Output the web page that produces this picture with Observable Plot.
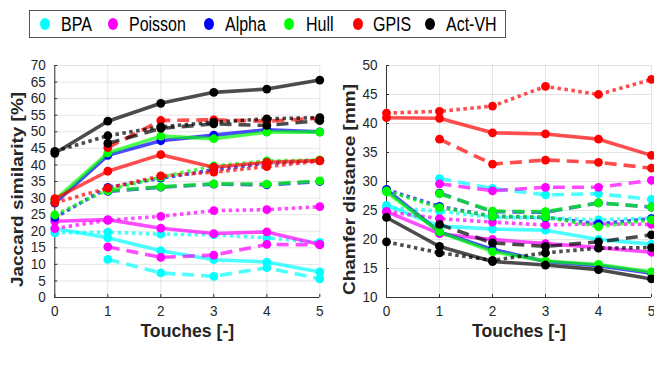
<!DOCTYPE html>
<html>
<head>
<meta charset="utf-8">
<script src="https://cdn.jsdelivr.net/npm/d3@7"></script>
<script src="https://cdn.jsdelivr.net/npm/@observablehq/plot@0.6"></script>
<style>
  html, body { margin: 0; padding: 0; background: #fff; }
  #wrap { position: relative; width: 654px; height: 367px; overflow: hidden;
          font-family: "Liberation Sans", Arial, sans-serif; color: #262626; }
  #legend { position: absolute; left: 29px; top: 10px; width: 477px; height: 28px;
            border: 1px solid #555; box-sizing: border-box; background: #fff; z-index: 2; }
  .mk { position: absolute; top: 7px; width: 10px; height: 12px; border-radius: 50%; }
  .lb { position: absolute; top: 0; font-size: 19.5px; color: #000; line-height: 26px;
        white-space: nowrap; transform: scaleX(0.82); transform-origin: 0 50%; }
  #left, #right { position: absolute; top: 0; }
  #left { left: 0; }
  #right { left: 327px; }
</style>
</head>
<body>
<div id="wrap">
  <div id="legend"></div>
  <div id="left"></div>
  <div id="right"></div>
</div>
<script>
const touches = [0, 1, 2, 3, 4, 5];
const methods = ["BPA", "Poisson", "Alpha", "Hull", "GPIS", "Act-VH"];
const methodColors = ["#00ffff", "#ff00ff", "#0000ff", "#00ff00", "#ff0000", "#000000"];
const jaccardTicks = [0, 5, 10, 15, 20, 25, 30, 35, 40, 45, 50, 55, 60, 65, 70];
const chamferTicks = [10, 15, 20, 25, 30, 35, 40, 45, 50];

// Jaccard similarity [%] — one row per method (BPA, Poisson, Alpha, Hull, GPIS, Act-VH)
const jaccardSolid = [
  [20.8, 18.0, 14.1, 11.4, 10.7, 7.7],
  [23.0, 23.5, 20.9, 19.3, 19.8, 16.0],
  [28.5, 42.9, 47.3, 49.0, 50.6, 50.0],
  [29.4, 43.6, 48.7, 47.9, 49.9, 49.9],
  [29.8, 38.1, 43.1, 39.3, 40.8, 41.3],
  [43.5, 53.2, 58.6, 61.9, 62.9, 65.6]
];
const jaccardDashed = [
  [null, 11.5, 7.4, 6.4, 9.0, 5.6],
  [null, 15.3, 12.1, 12.8, 16.0, 15.9],
  [null, 32.0, 33.3, 34.2, 34.0, 35.0],
  [null, 32.2, 33.4, 34.3, 34.2, 35.2],
  [null, 45.2, 53.4, 53.6, 53.2, 54.1],
  [null, 46.5, 51.0, 52.4, 51.9, 53.4]
];
const jaccardDotted = [
  [19.5, 19.7, 19.1, 18.9, 18.0, 16.6],
  [20.8, 23.3, 24.5, 26.2, 26.5, 27.4],
  [24.1, 33.2, 36.0, 38.5, 40.5, 41.3],
  [24.9, 32.5, 36.3, 39.7, 41.2, 41.5],
  [28.6, 33.0, 36.7, 37.8, 39.5, 41.2],
  [44.1, 48.8, 51.5, 52.9, 53.9, 54.3]
];

// Chamfer distance [mm]
const chamferSolid = [
  [25.9, 22.3, 21.8, 21.6, 20.0, 19.2],
  [24.8, 21.0, 20.0, 19.3, 18.6, 17.8],
  [28.6, 21.3, 18.3, 16.2, 15.5, 14.2],
  [28.2, 21.3, 17.9, 16.3, 15.7, 14.4],
  [41.0, 40.9, 38.4, 38.2, 37.3, 34.5],
  [23.8, 18.8, 16.2, 15.6, 14.8, 13.2]
];
const chamferDashed = [
  [null, 30.5, 28.8, 27.7, 27.9, 26.9],
  [null, 29.6, 28.4, 29.0, 29.0, 30.2],
  [null, 28.0, 24.8, 24.7, 26.3, 25.6],
  [null, 27.9, 24.9, 24.8, 26.3, 25.6],
  [null, 37.3, 33.0, 33.7, 33.3, 32.3],
  [null, 22.6, 19.4, 18.8, 19.6, 20.8]
];
const chamferDotted = [
  [25.5, 24.9, 23.8, 23.7, 23.4, 23.7],
  [24.8, 23.6, 23.0, 22.5, 22.7, 22.6],
  [28.6, 25.7, 24.0, 23.8, 22.7, 23.6],
  [28.4, 25.5, 24.0, 23.9, 22.2, 23.4],
  [41.8, 42.1, 43.0, 46.4, 45.0, 47.6],
  [19.6, 17.7, 16.4, 17.7, 18.5, 18.6]
];

const styleDash = { solid: null, dashed: "12,7", dotted: "3.5,3.5" };

// legend
const legendMarkerX = [45, 113, 209, 289, 358, 430];
const legendLabelX = [61, 129, 225, 306, 373, 446];
const legend = document.getElementById("legend");
methods.forEach((m, i) => {
  const mk = document.createElement("span");
  mk.className = "mk";
  mk.style.left = (legendMarkerX[i] - 30 - 5) + "px";
  mk.style.background = methodColors[i];
  legend.appendChild(mk);
  const lb = document.createElement("span");
  lb.className = "lb";
  lb.style.left = (legendLabelX[i] - 30) + "px";
  lb.textContent = m;
  legend.appendChild(lb);
});

function panel({solid, dashed, dotted, ticks, yDomain, ylabel, marginLeft, marginRight, labelDx, baseY}) {
  const sets = { solid, dashed, dotted };
  const marks = [
    Plot.gridX(touches, { stroke: "#000", strokeOpacity: 0.1 }),
    Plot.gridY(ticks, { stroke: "#000", strokeOpacity: 0.1 }),
    Plot.ruleX([0], { stroke: "#333", strokeWidth: 1 }),
    Plot.ruleY([baseY], { stroke: "#333", strokeWidth: 1 }),
    Plot.axisX(touches, { tickSize: -3, tickPadding: 11, stroke: "#333", fill: "#262626", label: null }),
    Plot.axisY(ticks, { tickSize: -3, tickPadding: 12, stroke: "#333", fill: "#262626", label: null })
  ];
  methods.forEach((m, mi) => {
    ["solid", "dashed", "dotted"].forEach(st => {
      const rows = touches.map((t, ti) => ({ t, v: sets[st][mi][ti] })).filter(d => d.v != null);
      marks.push(Plot.line(rows, {
        x: "t", y: "v", stroke: methodColors[mi], strokeOpacity: 0.7, strokeWidth: 3.6,
        strokeDasharray: styleDash[st], strokeLinecap: "butt", strokeLinejoin: "round"
      }));
      marks.push(Plot.dot(rows, { x: "t", y: "v", r: 4.4, fill: methodColors[mi], stroke: "none" }));
    });
  });
  marks.push(Plot.text([ylabel], {
    frameAnchor: "left", rotate: -90, dx: labelDx, dy: 8, textAnchor: "middle", lineAnchor: "middle",
    fontWeight: "bold", fontSize: 19, fill: "#262626"
  }));
  marks.push(Plot.text(["Touches [-]"], {
    frameAnchor: "bottom", dy: 33, textAnchor: "middle", lineAnchor: "middle",
    fontWeight: "bold", fontSize: 19, fill: "#262626"
  }));
  const svg = Plot.plot({
    width: 327, height: 367,
    marginLeft, marginRight, marginTop: 65, marginBottom: 70,
    style: { fontFamily: '"Liberation Sans", Arial, sans-serif', fontSize: "14.6px", background: "transparent", overflow: "visible" },
    x: { domain: [0, 5] },
    y: { domain: yDomain },
    marks
  });
  // the reference figure is horizontally condensed: condense text glyphs the same way
  d3.select(svg).selectAll("text").each(function() {
    const t = this.getAttribute("transform") || "";
    const bold = this.getAttribute("font-weight") === "bold" || /rotate/.test(t);
    const extra = /rotate/.test(t) ? " scale(1,0.82)" : (bold ? " scale(0.82,1)" : " scale(0.93,1)");
    this.setAttribute("transform", t + extra);
  });
  return svg;
}

document.getElementById("left").appendChild(panel({
  solid: jaccardSolid, dashed: jaccardDashed, dotted: jaccardDotted,
  ticks: jaccardTicks, yDomain: [0, 70], ylabel: "Jaccard similarity [%]",
  marginLeft: 54.3, marginRight: 7.7, labelDx: -37, baseY: 0
}));
document.getElementById("right").appendChild(panel({
  solid: chamferSolid, dashed: chamferDashed, dotted: chamferDotted,
  ticks: chamferTicks, yDomain: [10, 50], ylabel: "Chamfer distance [mm]",
  marginLeft: 59, marginRight: 3, labelDx: -36, baseY: 10
}));
</script>
</body>
</html>
